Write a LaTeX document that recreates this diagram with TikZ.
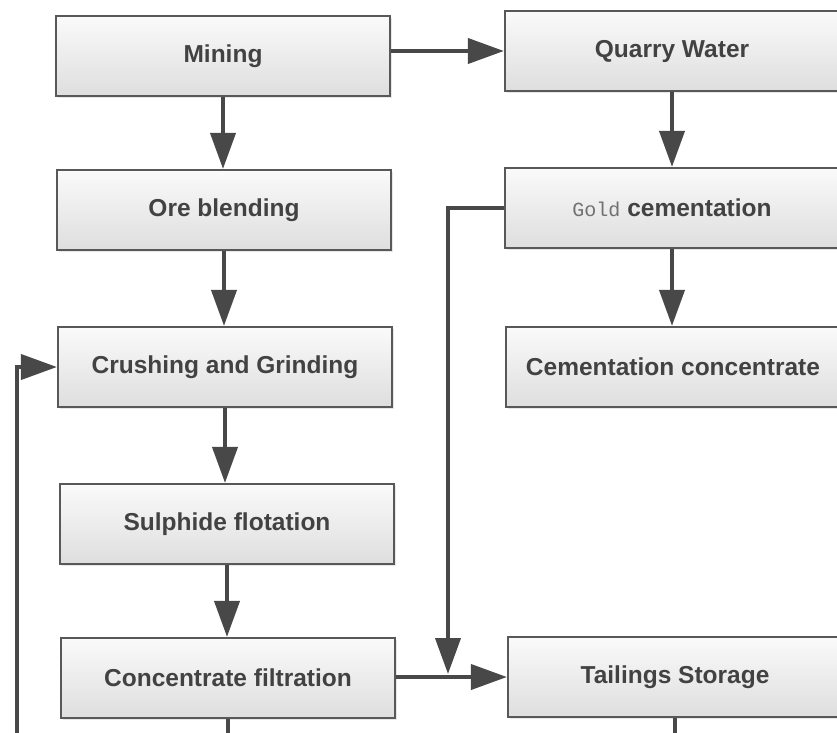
\documentclass[tikz,border=0pt]{standalone}
\usepackage{fontspec}
\setmainfont{Liberation Sans}
\newfontfamily\gmono{Liberation Mono}
\usepackage{tikz}
\usetikzlibrary{arrows.meta,shadows}
\usepackage{xcolor}
\definecolor{boxedge}{RGB}{88,88,88}
\definecolor{boxtop}{RGB}{250,250,250}
\definecolor{boxbot}{RGB}{222,222,222}
\definecolor{flowgray}{RGB}{72,72,72}
\definecolor{txtgray}{RGB}{66,66,66}
\tikzstyle{stage} = [draw=boxedge, line width=2.2pt, top color=boxtop, bottom color=boxbot, minimum width=334pt, minimum height=80pt, inner sep=0pt, text=txtgray, font=\fontsize{24.5}{28}\selectfont\bfseries, drop shadow={shadow xshift=1.5pt, shadow yshift=-2pt, fill=black!30, opacity=.3}]
\tikzstyle{flow} = [line width=4pt, color=flowgray, -{Triangle[length=36pt,width=25pt]}]
\tikzstyle{pipe} = [line width=4pt, color=flowgray]

\begin{document}
\begin{tikzpicture}[x=1pt, y=-1pt]
\fill[white] (0,0) rectangle (837,732);
\useasboundingbox (0,0) rectangle (837,732);
\clip (0,0) rectangle (837,732);

% Main line
\node[stage] (mine) at (223,56) {Mining};
\node[stage] (blend) at (224,210) {Ore blending};
\node[stage] (crush) at (225,367) {Crushing and Grinding};
\node[stage] (flot) at (227,524) {Sulphide flotation};
\node[stage] (filt) at (228,678) {Concentrate filtration};

% Water side
\node[stage] (water) at (672,51) {Quarry Water};
\node[stage] (cement) at (672,208) {{\gmono\mdseries\fontsize{20}{22}\selectfont\color{txtgray!75}Gold} cementation};
\node[stage] (cconc) at (673,367) {Cementation concentrate};
\node[stage] (tail) at (675,677) {Tailings Storage};

\coordinate (drop) at (448,674);
\coordinate (recycle) at (17,750);

% Flows
\draw[flow] (mine.south) -- (mine.south |- blend.north);
\draw[flow] (blend.south) -- (blend.south |- crush.north);
\draw[flow] (crush.south) -- (crush.south |- flot.north);
\draw[flow] (flot.south) -- (flot.south |- filt.north);
\draw[flow] (mine.east |- water.west) -- (water.west);
\draw[flow] (water.south) -- (water.south |- cement.north);
\draw[flow] (cement.south) -- (cement.south |- cconc.north);
\draw[flow] (filt.east |- tail.west) -- (tail.west);
\draw[flow] (cement.west) -| (drop);
\draw[flow] (recycle) |- (crush.west);

% Outgoing
\draw[pipe] (filt.south) -- (filt.south |- recycle);
\draw[pipe] (tail.south) -- (tail.south |- recycle);
\end{tikzpicture}
\end{document}
